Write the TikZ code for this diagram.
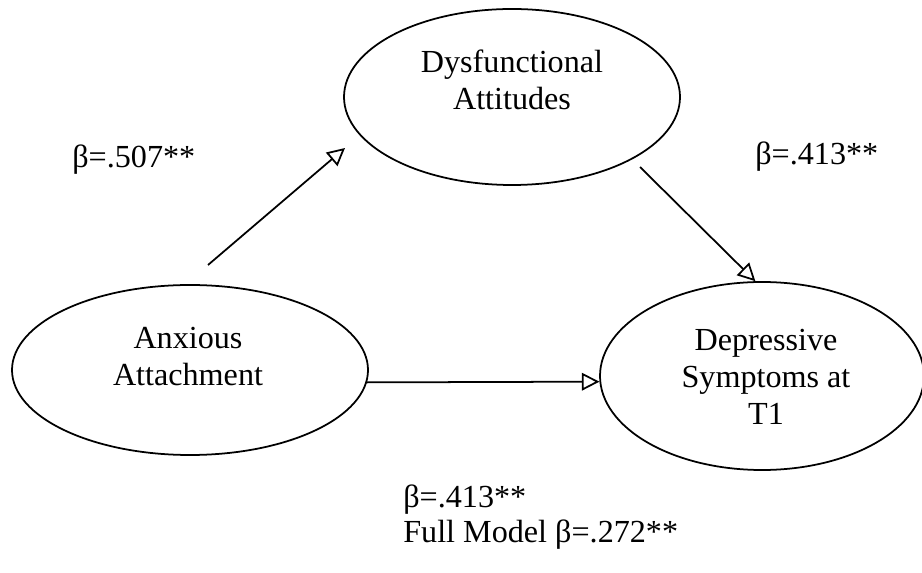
\documentclass[tikz,border=0pt]{standalone}
\usepackage{fontspec}
\setmainfont{Liberation Serif}
\usetikzlibrary{arrows.meta,shapes.geometric}
\begin{document}
\begin{tikzpicture}[x=0.02cm,y=-0.02cm,
        construct/.style={draw,ellipse,line width=1pt,inner sep=0pt},
        words/.style={align=center,inner sep=0pt,font=\fontsize{18.3}{21}\selectfont},
        path/.style={line width=1pt,-{Triangle[open,length=10pt,width=10pt]}},
        beta/.style={anchor=base west,inner sep=0pt,font=\fontsize{18.3}{21}\selectfont}]
        \useasboundingbox (0,0) rectangle (922,573);

        \node[construct,minimum width=336*0.02cm,minimum height=176*0.02cm] (dys) at (512,97) {};
        \node[construct,minimum width=356*0.02cm,minimum height=170*0.02cm] (anx) at (190,370) {};
        \node[construct,minimum width=324*0.02cm,minimum height=188*0.02cm] (dep) at (762,376) {};

        \node[words,anchor=north] (dystext) at (512,50) {Dysfunctional\\Attitudes};
        \node[words,anchor=north] (anxtext) at (188,327) {Anxious\\Attachment};
        \node[words,anchor=north] (deptext) at (766,329) {Depressive\\Symptoms at\\T1};

        \coordinate (a1) at (208,265);
        \coordinate (a2) at (345,148);
        \coordinate (b1) at (640,167);

        \draw[path] (a1) -- (a2);
        \draw[path] (b1) -- (dep.94);
        \draw[path] (anx.-4) -- (dep.182);

        \node[beta] (ad) at (72,168) {β=.507**};
        \node[beta] (dd) at (755,165) {β=.413**};
        \node[beta] (ax) at (403,507) {β=.413**};
        \node[beta] (full) at (403,542) {Full Model β=.272**};
    \end{tikzpicture}
\end{document}
